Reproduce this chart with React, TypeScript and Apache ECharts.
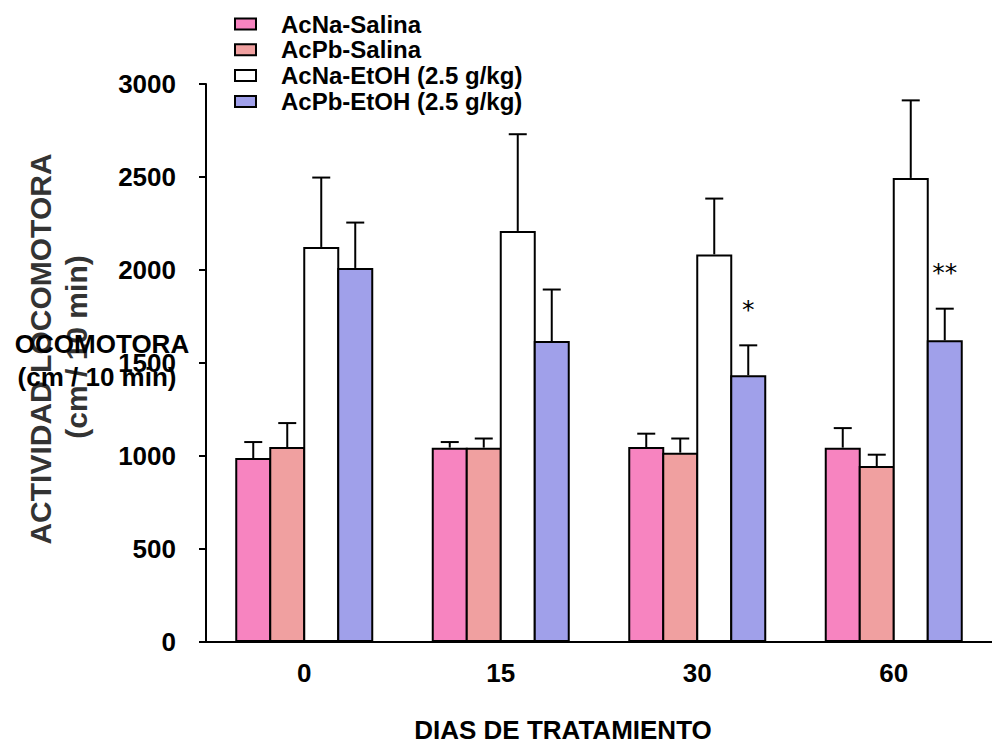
import React, { useEffect, useRef } from "react";
import * as echarts from "echarts";

const categories = ["0", "15", "30", "60"];
const seriesNames = [
  "AcNa-Salina",
  "AcPb-Salina",
  "AcNa-EtOH (2.5 g/kg)",
  "AcPb-EtOH (2.5 g/kg)",
];
const acNaSalina = [989, 1045, 1048, 1045];
const acNaSalinaErr = [86, 30, 72, 105];
const acPbSalina = [1048, 1045, 1018, 946];
const acPbSalinaErr = [129, 49, 76, 61];
const acNaEtOH = [2124, 2210, 2084, 2495];
const acNaEtOHErr = [373, 520, 300, 417];
const acPbEtOH = [2011, 1618, 1434, 1622];
const acPbEtOHErr = [244, 277, 161, 170];
const acPbEtOHSignificance = ["", "", "*", "**"];
const yTicks = [0, 500, 1000, 1500, 2000, 2500, 3000];

const colors = ["#F784C0", "#F0A0A0", "#FFFFFF", "#A0A0EA"];
const FONT = "'Liberation Sans', Arial, sans-serif";
const BAR_W = 36;
const BAR_OVERLAP = 2;
const BAR_STEP = BAR_W - BAR_OVERLAP;

export default function App() {
  const ref = useRef<HTMLDivElement>(null);
  useEffect(() => {
    if (!ref.current) return;
    const chart = echarts.init(ref.current, undefined, { renderer: "svg" });
    const values = [acNaSalina, acPbSalina, acNaEtOH, acPbEtOH];
    const errors = [acNaSalinaErr, acPbSalinaErr, acNaEtOHErr, acPbEtOHErr];
    const sigs = [["", "", "", ""], ["", "", "", ""], ["", "", "", ""], acPbEtOHSignificance];
    const errData: number[][] = [];
    const errSig: string[] = [];
    values.forEach((vals, s) => {
      vals.forEach((v, c) => {
        errData.push([c, s, v, v + errors[s][c]]);
        errSig.push(sigs[s][c]);
      });
    });

    const barSeries = values.map((vals, s) => ({
      name: seriesNames[s],
      type: "bar",
      data: vals,
      barWidth: BAR_W,
      barGap: `${(-BAR_OVERLAP / BAR_W) * 100}%`,
      itemStyle: { color: colors[s], borderColor: "#000", borderWidth: 2 },
      z: 2,
    }));

    const option: any = {
      animation: false,
      backgroundColor: "#fff",
      textStyle: { fontFamily: FONT },
      grid: { left: 206, top: 84, width: 794, height: 558 },
      legend: {
        data: seriesNames,
        orient: "vertical",
        left: 234,
        top: 12,
        padding: 0,
        itemWidth: 21,
        itemHeight: 11,
        itemGap: 1.8,
        icon: "rect",
        itemStyle: { borderColor: "#000", borderWidth: 2 },
        textStyle: {
          fontFamily: FONT,
          fontSize: 24,
          fontWeight: "bold",
          color: "#000",
          lineHeight: 24,
          padding: [0, 0, 0, 20],
        },
        selectedMode: false,
      },
      xAxis: {
        type: "category",
        data: categories,
        axisLine: { lineStyle: { color: "#000", width: 2 } },
        axisTick: { alignWithLabel: true, length: 8, lineStyle: { color: "#000", width: 2 } },
        axisLabel: { fontSize: 26, fontWeight: "bold", color: "#000", margin: 18, fontFamily: FONT },
        splitLine: { show: false },
      },
      yAxis: {
        type: "value",
        min: yTicks[0],
        max: yTicks[yTicks.length - 1],
        interval: 500,
        axisLine: { show: true, lineStyle: { color: "#000", width: 2 } },
        axisTick: { show: true, length: 7, lineStyle: { color: "#000", width: 2 } },
        axisLabel: {
          fontSize: 26,
          fontWeight: "bold",
          color: "#000",
          margin: 30,
          fontFamily: FONT,
          formatter: (v: number) => String(v),
        },
        splitLine: { show: false },
      },
      series: [
        ...barSeries,
        {
          name: "errors",
          type: "custom",
          clip: false,
          z: 3,
          data: errData,
          encode: { x: 0, y: [2, 3] },
          renderItem: (params: any, api: any) => {
            const c = api.value(0);
            const s = api.value(1);
            const v = api.value(2);
            const t = api.value(3);
            const base = api.coord([c, v]);
            const top = api.coord([c, t]);
            const x = base[0] + (s - 1.5) * BAR_STEP;
            const children: any[] = [
              {
                type: "line",
                shape: { x1: x, y1: base[1], x2: x, y2: top[1] },
                style: { stroke: "#000", lineWidth: 2 },
              },
              {
                type: "line",
                shape: { x1: x - 9, y1: top[1], x2: x + 9, y2: top[1] },
                style: { stroke: "#000", lineWidth: 2 },
              },
            ];
            const sig = errSig[params.dataIndex];
            if (sig) {
              children.push({
                type: "text",
                x: x,
                y: top[1] - 36,
                style: {
                  text: sig,
                  fill: "#000",
                  fontSize: 25,
                  fontFamily: "'DejaVu Sans', sans-serif",
                  align: "center",
                  verticalAlign: "middle",
                },
              });
            }
            return { type: "group", children };
          },
        },
      ],
      graphic: [
        {
          type: "text",
          x: 40,
          y: 349,
          rotation: Math.PI / 2,
          z: 1,
          style: {
            text: "ACTIVIDAD LOCOMOTORA",
            fill: "#333",
            fontSize: 30,
            fontWeight: "bold",
            fontFamily: FONT,
            align: "center",
            verticalAlign: "middle",
          },
        },
        {
          type: "text",
          x: 76,
          y: 347,
          rotation: Math.PI / 2,
          z: 1,
          style: {
            text: "(cm / 10 min)",
            fill: "#333",
            fontSize: 30,
            fontWeight: "bold",
            fontFamily: FONT,
            align: "center",
            verticalAlign: "middle",
          },
        },
        {
          type: "text",
          x: 102,
          y: 344,
          z: 2,
          style: {
            text: "OCOMOTORA",
            fill: "#000",
            fontSize: 26,
            fontWeight: "bold",
            fontFamily: FONT,
            align: "center",
            verticalAlign: "middle",
          },
        },
        {
          type: "text",
          x: 97,
          y: 377,
          z: 2,
          style: {
            text: "(cm / 10 min)",
            fill: "#000",
            fontSize: 26,
            fontWeight: "bold",
            fontFamily: FONT,
            align: "center",
            verticalAlign: "middle",
          },
        },
        {
          type: "text",
          x: 563,
          y: 730,
          style: {
            text: "DIAS DE TRATAMIENTO",
            fill: "#000",
            fontSize: 26,
            fontWeight: "bold",
            fontFamily: FONT,
            align: "center",
            verticalAlign: "middle",
          },
        },
      ],
    };
    chart.setOption(option);
    return () => chart.dispose();
  }, []);
  return (
    <div
      ref={ref}
      style={{ position: "fixed", left: 0, top: 0, width: 992, height: 744, background: "#fff" }}
    />
  );
}
